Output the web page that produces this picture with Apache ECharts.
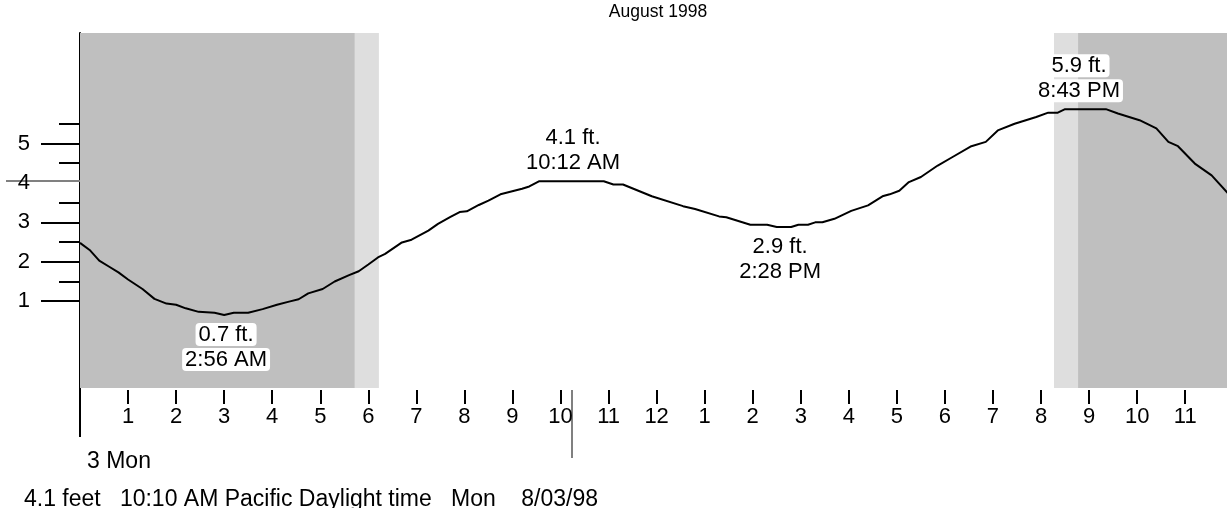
<!DOCTYPE html>
<html>
<head>
<meta charset="utf-8">
<script src="https://cdn.jsdelivr.net/npm/echarts@6/dist/echarts.min.js"></script>
<style>
    html, body { margin: 0; padding: 0; background: #fff; }
    #chart { width: 1227px; height: 508px; }
</style>
</head>
<body>
<div id="chart"></div>
<script>
// tide height (ft), hour of day 0..24
var hours = [0.0, 0.2, 0.4, 0.6, 0.8, 1.0, 1.3, 1.55, 1.8, 2.0, 2.2, 2.47, 2.8, 3.0, 3.2, 3.5, 3.8, 4.1, 4.35, 4.55,
    4.75, 5.05, 5.3, 5.6, 5.8, 6.0, 6.2, 6.35, 6.7, 6.9, 7.25, 7.45, 7.7, 7.9, 8.05, 8.3, 8.5, 8.75, 9.2, 9.35,
    9.55, 10.9, 11.1, 11.3, 11.9, 12.55, 12.8, 13.3, 13.45, 13.95, 14.3, 14.5, 14.8, 14.95, 15.15, 15.3, 15.45, 15.7, 16.05, 16.4,
    16.7, 16.85, 17.05, 17.25, 17.5, 17.85, 18.15, 18.55, 18.85, 19.1, 19.45, 19.9, 20.15, 20.35, 20.5, 21.35, 21.6, 22.05, 22.4, 22.65,
    22.85, 23.2, 23.55, 23.9];
var feet = [2.48, 2.30, 2.03, 1.88, 1.73, 1.55, 1.31, 1.06, 0.94, 0.91, 0.82, 0.73, 0.71, 0.65, 0.71, 0.71, 0.80, 0.91, 0.99, 1.05,
    1.20, 1.31, 1.50, 1.66, 1.76, 1.93, 2.11, 2.20, 2.49, 2.56, 2.79, 2.96, 3.13, 3.26, 3.28, 3.44, 3.55, 3.71, 3.85, 3.91,
    4.04, 4.04, 3.96, 3.96, 3.66, 3.41, 3.34, 3.15, 3.13, 2.94, 2.94, 2.88, 2.88, 2.94, 2.94, 3.00, 3.00, 3.09, 3.29, 3.43,
    3.66, 3.71, 3.80, 4.02, 4.15, 4.44, 4.65, 4.93, 5.04, 5.33, 5.50, 5.67, 5.78, 5.78, 5.87, 5.87, 5.76, 5.59, 5.38, 5.04,
    4.93, 4.49, 4.19, 3.72];

// highs / lows labels
var extHours = [3.04, 10.26, 14.57, 20.79];
var extFeet = [0.65, 4.04, 2.88, 5.87];
var extHeight = ['0.7 ft.', '4.1 ft.', '2.9 ft.', '5.9 ft.'];
var extTime = ['2:56 AM', '10:12 AM', '2:28 PM', '8:43 PM'];
var extIsHigh = [false, true, false, true];

// night / twilight bands [from, to] in hours
var nightBands = [[0, 5.72], [20.77, 24]];
var twilightBands = [[5.72, 6.22], [20.27, 20.77]];

// axis ticks
var hourTicks = [1, 2, 3, 4, 5, 6, 7, 8, 9, 10, 11, 12, 13, 14, 15, 16, 17, 18, 19, 20, 21, 22, 23];
var feetMajor = [1, 2, 3, 4, 5];
var feetMinor = [1.5, 2.5, 3.5, 4.5, 5.5];

// current reading
var nowHour = 10.23;
var nowFeet = 4.05;

var titleText = 'August 1998';
var dayText = '3 Mon';
var statusText = '4.1 feet   10:10 AM Pacific Daylight time   Mon    8/03/98';

var FONT = '"Liberation Sans", Arial, sans-serif';
var X_MAX = 23.87; // chart is cut at the right edge, just before midnight

var myChart = echarts.init(document.getElementById('chart'));

var lineData = hours.map(function (h, i) { return [h, feet[i]]; });

var areas = [];
nightBands.forEach(function (b) {
    areas.push([{ xAxis: b[0], itemStyle: { color: '#bfbfbf' } }, { xAxis: Math.min(b[1], X_MAX) }]);
});
twilightBands.forEach(function (b) {
    areas.push([{ xAxis: b[0], itemStyle: { color: '#dedede' } }, { xAxis: b[1] }]);
});

var extData = extHours.map(function (h, i) {
    return {
        value: [h, extFeet[i]],
        label: {
            position: extIsHigh[i] ? 'top' : 'bottom',
            distance: extIsHigh[i] ? 6 : 7,
            formatter: '{b|' + extHeight[i] + '}\n{b|' + extTime[i] + '}'
        }
    };
});

// the grey "now" marker sits on top of the 4 ft tick
var majorTicks = feetMajor.filter(function (v) { return Math.abs(v - nowFeet) > 0.2; });

var xCommon = { type: 'value', min: 0, max: X_MAX, position: 'bottom', splitLine: { show: false }, axisLine: { show: false, onZero: false } };
var yCommon = { type: 'value', min: -1.2, max: 7.8, position: 'left', splitLine: { show: false } };

var txt = function (size) { return { fontFamily: FONT, fontSize: size, fontWeight: 'normal', color: '#000' }; };

var options = {
    animation: false,
    backgroundColor: '#fff',
    textStyle: { fontFamily: FONT },
    title: [
        { text: titleText, left: 653, top: -2, textAlign: 'center', textStyle: txt(17.5) },
        { text: dayText, left: 82, top: 445, textStyle: txt(23) },
        { text: statusText, left: 19, top: 483, textStyle: txt(23) }
    ],
    grid: { left: 80, right: 0, top: 33, bottom: 120, containLabel: false },
    xAxis: [
        Object.assign({}, xCommon, {
            offset: 2,
            axisTick: { show: true, customValues: hourTicks, length: 14, lineStyle: { color: '#000', width: 2 } },
            axisLabel: {
                show: true, customValues: hourTicks, margin: 16, color: '#000', fontSize: 22, fontFamily: FONT,
                formatter: function (v) { var h = v % 12; return String(h === 0 ? 12 : h); }
            }
        }),
        Object.assign({}, xCommon, {
            axisTick: { show: true, customValues: [0], length: 49, lineStyle: { color: '#000', width: 2 } },
            axisLabel: { show: false }
        }),
        Object.assign({}, xCommon, {
            offset: 2,
            axisTick: { show: true, customValues: [nowHour], length: 68, lineStyle: { color: '#808080', width: 2 } },
            axisLabel: { show: false }
        })
    ],
    yAxis: [
        Object.assign({}, yCommon, {
            axisLine: { show: true, onZero: false, lineStyle: { color: '#000', width: 2 } },
            axisTick: { show: true, customValues: majorTicks, length: 39, lineStyle: { color: '#000', width: 2 } },
            axisLabel: { show: true, customValues: feetMajor, margin: 50, color: '#000', fontSize: 22, fontFamily: FONT }
        }),
        Object.assign({}, yCommon, {
            axisLine: { show: false, onZero: false },
            axisTick: { show: true, customValues: feetMinor, length: 21, lineStyle: { color: '#000', width: 2 } },
            axisLabel: { show: false }
        }),
        Object.assign({}, yCommon, {
            axisLine: { show: false, onZero: false },
            axisTick: { show: true, customValues: [nowFeet], length: 74, lineStyle: { color: '#808080', width: 2 } },
            axisLabel: { show: false }
        })
    ],
    series: [
        {
            type: 'line',
            data: lineData,
            symbol: 'none',
            lineStyle: { color: '#000', width: 2 },
            markArea: { silent: true, data: areas },
            z: 3
        },
        {
            type: 'scatter',
            data: extData,
            symbolSize: 0,
            itemStyle: { opacity: 1 },
            z: 4,
            label: {
                show: true,
                color: '#000',
                fontFamily: FONT,
                fontSize: 22,
                rich: {
                    b: { backgroundColor: '#fff', borderRadius: 4, padding: [1, 3, 0, 3], lineHeight: 25, fontSize: 22, fontFamily: FONT, color: '#000' }
                }
            }
        }
    ]
};

myChart.setOption(options);
window.addEventListener('resize', function () { myChart.resize(); });
</script>
</body>
</html>
